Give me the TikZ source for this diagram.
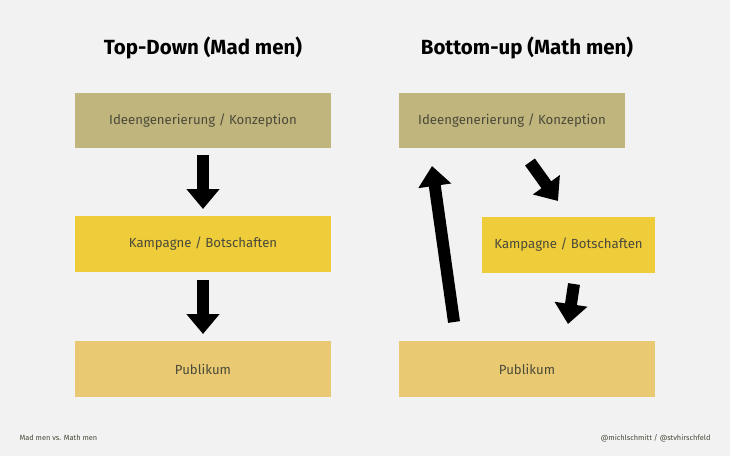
\documentclass[tikz,border=0pt]{standalone}
\usepackage{fontspec}
\setmainfont{Fira Sans}
\usetikzlibrary{arrows.meta}
\definecolor{bg}{HTML}{F2F2F2}
\definecolor{cA}{HTML}{C1B57E}
\definecolor{cB}{HTML}{EECC3A}
\definecolor{cC}{HTML}{E9C972}
\definecolor{tx}{HTML}{4A4A3A}
\tikzset{
 box/.style={rectangle,inner sep=0pt,text=tx,font=\fontsize{13.2}{15}\selectfont},
 big/.style={line width=12pt,-{Triangle[width=32pt,length=20pt]}},
 ttl/.style={font=\bfseries\fontsize{20.5}{24}\selectfont},
 foot/.style={font=\fontsize{7.4}{9}\selectfont,text=tx}
}
\begin{document}
\begin{tikzpicture}[x=1pt,y=-1pt]
\fill[bg] (0,0) rectangle (730,456);
\useasboundingbox (0,0) rectangle (730,456);
\node[ttl] (t1) at (203,48) {Top-Down (Mad men)};
\node[ttl] (t2) at (527,48) {Bottom-up (Math men)};
\node[box,fill=cA,minimum width=256pt,minimum height=55pt] (l1) at (203,120.5) {Ideengenerierung / Konzeption};
\node[box,fill=cB,minimum width=256pt,minimum height=56pt] (l2) at (203,244) {Kampagne / Botschaften};
\node[box,fill=cC,minimum width=256pt,minimum height=56pt] (l3) at (203,369) {Publikum};
\node[box,fill=cA,minimum width=226pt,minimum height=55pt] (r1) at (512,120.5) {Ideengenerierung / Konzeption};
\node[box,fill=cB,minimum width=173pt,minimum height=56pt] (r2) at (568.5,245) {Kampagne / Botschaften};
\node[box,fill=cC,minimum width=256pt,minimum height=56pt] (r3) at (527,369) {Publikum};
\coordinate (a1s) at (203,155); \coordinate (a1e) at (203,209);
\coordinate (a2s) at (203,280); \coordinate (a2e) at (203,334);
\coordinate (a3s) at (454,322); \coordinate (a3e) at (432,166);
\coordinate (a4s) at (530,162); \coordinate (a4e) at (558,201);
\coordinate (a5s) at (574,284); \coordinate (a5e) at (568,324);
\draw[big] (a1s) -- (a1e);
\draw[big] (a2s) -- (a2e);
\draw[big] (a3s) -- (a3e);
\draw[big] (a4s) -- (a4e);
\draw[big] (a5s) -- (a5e);
\node[foot,anchor=west] (f1) at (16,438) {Mad men vs. Math men};
\node[foot,anchor=east] (f2) at (714,438) {@michlschmitt / @stvhirschfeld};
\end{tikzpicture}
\end{document}
